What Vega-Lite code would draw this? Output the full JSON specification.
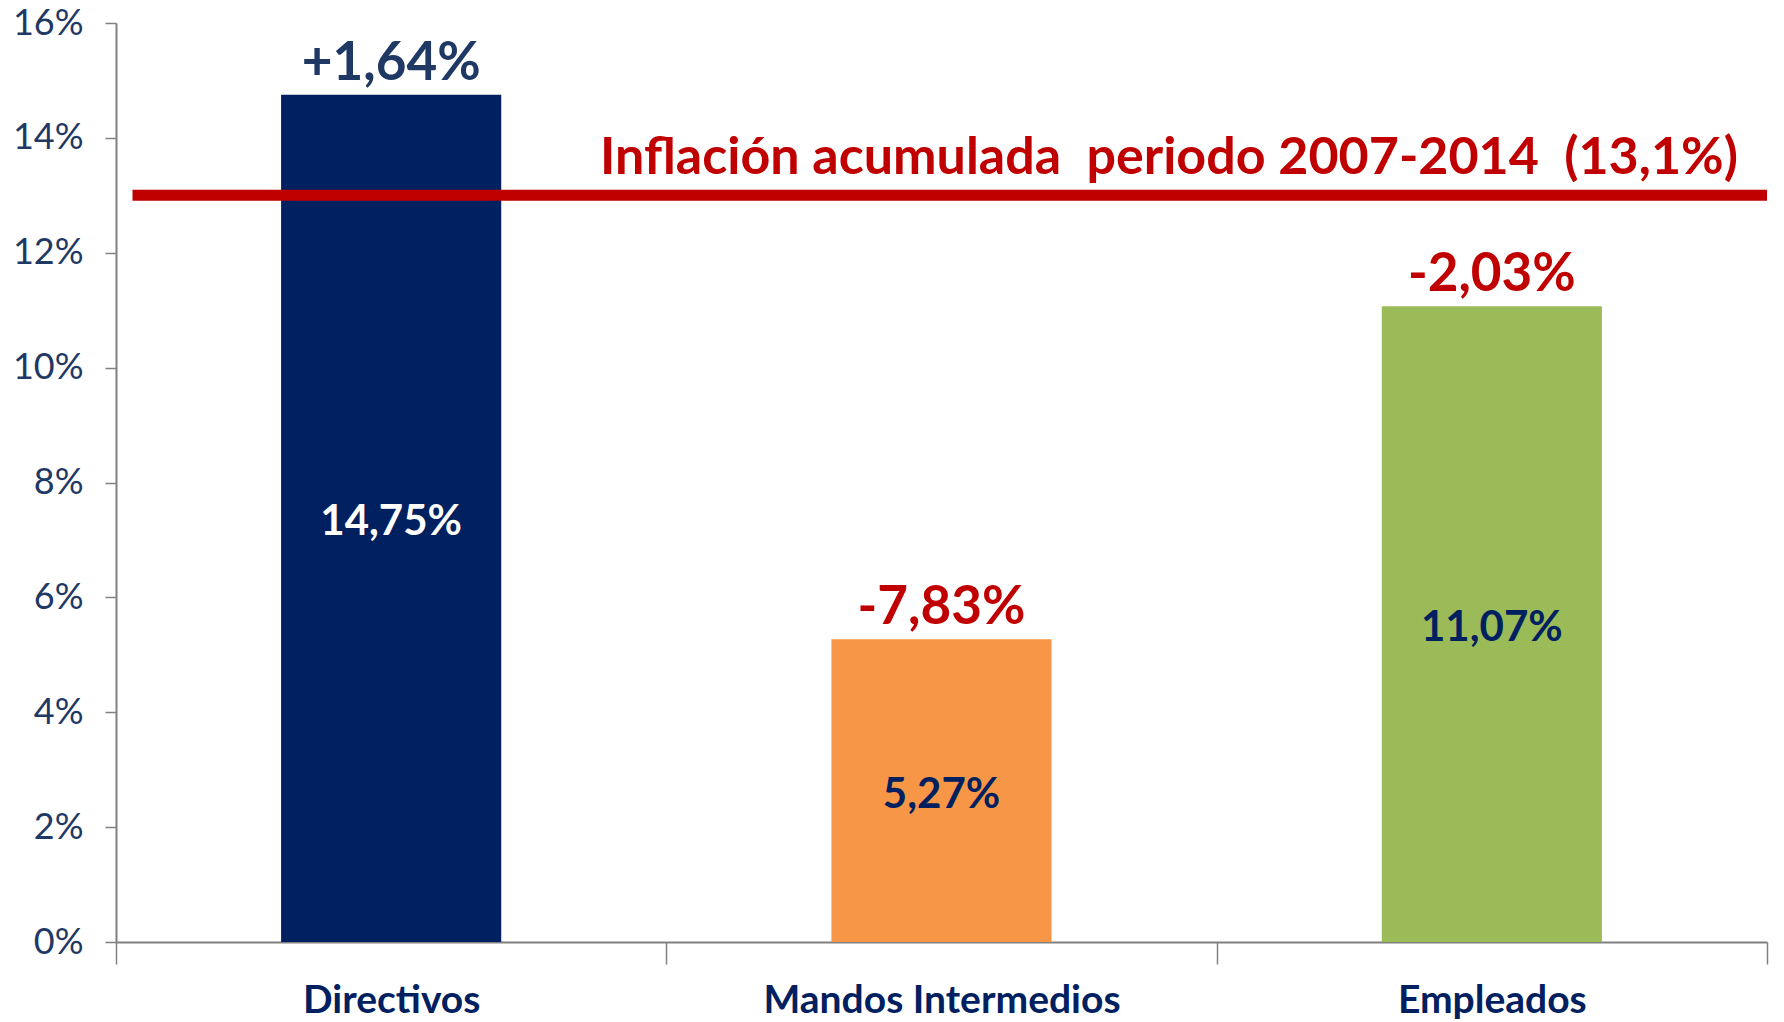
{
  "$schema": "https://vega.github.io/schema/vega-lite/v6.json",
  "width": 1651,
  "height": 919,
  "autosize": {"type": "none"},
  "padding": {"left": 116, "top": 23, "right": 17, "bottom": 80},
  "background": "white",
  "config": {"view": {"stroke": null}, "font": "Lato"},
  "data": {"values": [
    {"categoria": "Directivos", "valor": 14.75, "etiqueta": "14,75%", "variacion": "+1,64%"},
    {"categoria": "Mandos Intermedios", "valor": 5.27, "etiqueta": "5,27%", "variacion": "-7,83%"},
    {"categoria": "Empleados", "valor": 11.07, "etiqueta": "11,07%", "variacion": "-2,03%"}
  ]},
  "resolve": {"scale": {"y": "independent"}},
  "layer": [
    {
      "mark": {"type": "bar", "width": {"band": 0.4}},
      "encoding": {
        "x": {
          "field": "categoria", "type": "nominal", "sort": null,
          "scale": {"domain": ["Directivos", "Mandos Intermedios", "Empleados"], "paddingInner": 0, "paddingOuter": 0},
          "axis": {
            "title": null, "labelAngle": 0, "tickBand": "extent", "labelLimit": 600,
            "domainColor": "#808080", "domainWidth": 2,
            "tickColor": "#808080", "tickWidth": 1.5, "tickSize": 22,
            "labelFont": "Lato", "labelFontWeight": "bold", "labelFontSize": 39,
            "labelColor": "#002060", "labelPadding": 17
          }
        },
        "y": {
          "field": "valor", "type": "quantitative",
          "scale": {"domain": [0, 16], "nice": false},
          "axis": {
            "title": null, "grid": false, "values": [0, 2, 4, 6, 8, 10, 12, 14, 16],
            "labelExpr": "datum.value + '%'",
            "domainColor": "#808080", "domainWidth": 2,
            "tickColor": "#808080", "tickWidth": 1.5, "tickSize": 11,
            "labelFont": "Lato", "labelFontSize": 36, "labelFontWeight": 400,
            "labelColor": "#1F3864", "labelPadding": 22
          }
        },
        "color": {
          "field": "categoria", "type": "nominal",
          "scale": {"domain": ["Directivos", "Mandos Intermedios", "Empleados"], "range": ["#002060", "#F79646", "#9BBB59"]},
          "legend": null
        }
      }
    },
    {
      "data": {"values": [{"texto": "Inflación acumulada\u00a0 periodo 2007-2014\u00a0 (13,1%)", "valor": 13.0}]},
      "mark": {"type": "rule", "color": "#C00000", "strokeWidth": 11},
      "encoding": {
        "x": {"datum": "Directivos", "bandPosition": 0.03},
        "x2": {"datum": "Empleados", "bandPosition": 1},
        "y": {"field": "valor", "type": "quantitative", "scale": {"domain": [0, 16], "nice": false}, "axis": null}
      }
    },
    {
      "data": {"values": [{"texto": "Inflación acumulada\u00a0 periodo 2007-2014\u00a0 (13,1%)", "valor": 13.0}]},
      "mark": {"type": "text", "align": "right", "baseline": "alphabetic", "dx": -29, "dy": -21, "font": "Lato", "fontWeight": "bold", "fontSize": 52, "color": "#C00000"},
      "encoding": {
        "x": {"datum": "Empleados", "bandPosition": 1},
        "y": {"field": "valor", "type": "quantitative", "scale": {"domain": [0, 16], "nice": false}, "axis": null},
        "text": {"field": "texto"}
      }
    },
    {
      "mark": {"type": "text", "baseline": "alphabetic", "dy": -15, "font": "Lato", "fontWeight": "bold", "fontSize": 53},
      "encoding": {
        "x": {"field": "categoria", "type": "nominal", "sort": null},
        "y": {"field": "valor", "type": "quantitative", "scale": {"domain": [0, 16], "nice": false}, "axis": null},
        "text": {"field": "variacion"},
        "color": {"condition": {"test": "indexof(datum.variacion, '+') === 0", "value": "#1F3864"}, "value": "#C00000"}
      }
    },
    {
      "mark": {"type": "text", "baseline": "middle", "dy": 4, "font": "Lato", "fontWeight": "bold", "fontSize": 42},
      "encoding": {
        "x": {"field": "categoria", "type": "nominal", "sort": null},
        "y": {"field": "valor", "type": "quantitative", "scale": {"domain": [0, 32], "nice": false}, "axis": null},
        "text": {"field": "etiqueta"},
        "color": {"condition": {"test": "datum.categoria === 'Directivos'", "value": "#FFFFFF"}, "value": "#002060"}
      }
    }
  ]
}
